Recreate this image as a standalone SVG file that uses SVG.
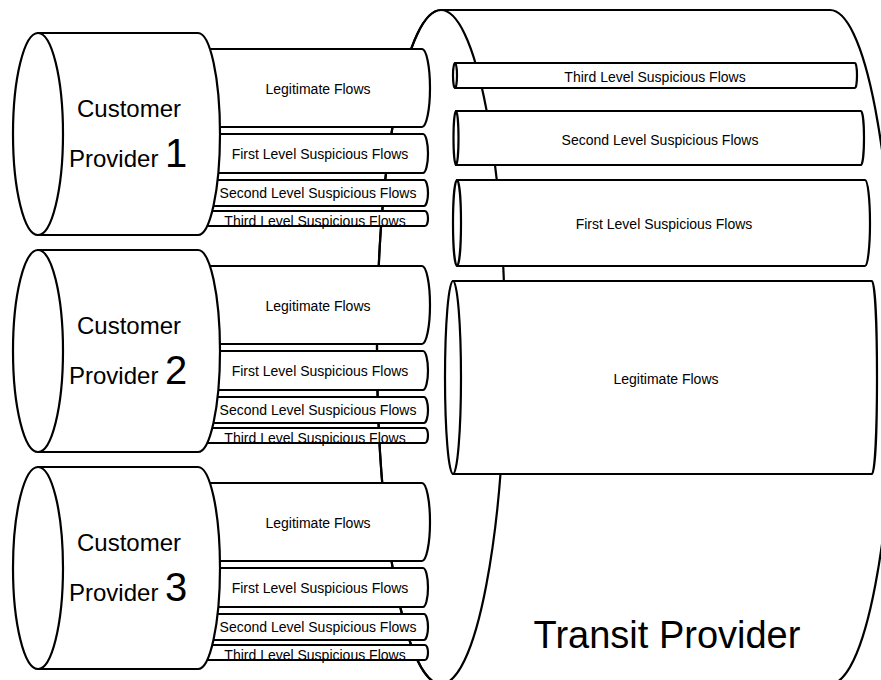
<svg xmlns="http://www.w3.org/2000/svg" width="881" height="680" viewBox="0 0 881 680">
<style>
.s{fill:#fff;stroke:#000;stroke-width:2.2;stroke-linejoin:round}
.n{fill:none;stroke:#000;stroke-width:2.2}
.t{font-family:"Liberation Sans",Arial,sans-serif;font-size:14px;fill:#000;text-anchor:middle}
.c{font-family:"Liberation Sans",Arial,sans-serif;font-size:24px;fill:#000}
</style>
<defs>
<g id="pipes">
<path class="s" d="M200,49 L422,49 A8,39 0 0 1 422,127 L200,127 Z"/>
<text class="t" x="318" y="94">Legitimate Flows</text>
<path class="s" d="M200,134 L423,134 A5,19.5 0 0 1 423,173 L200,173 Z"/>
<text class="t" x="320" y="159">First Level Suspicious Flows</text>
<path class="s" d="M200,180 L424,180 A4,13 0 0 1 424,206 L200,206 Z"/>
<text class="t" x="318" y="198">Second Level Suspicious Flows</text>
<path class="s" d="M200,211 L425,211 A3,7.5 0 0 1 425,226 L200,226 Z"/>
<text class="t" x="315" y="226">Third Level Suspicious Flows</text>
</g>
<g id="cyl">
<path class="s" d="M38,33 L198,33 A22,101 0 0 1 198,235 L38,235 Z"/>
<ellipse class="s" cx="38" cy="134" rx="25" ry="101"/>
<text class="c" x="129" y="117" text-anchor="middle">Customer</text>
</g>
</defs>
<g id="transit-provider">
<path class="s" d="M441,10 L830,10 A64,337 0 0 1 830,684 L441,684 A64,337 0 0 1 441,10 Z"/>
<ellipse class="n" cx="441" cy="347" rx="64" ry="337"/>
<text class="c" x="667" y="648" text-anchor="middle" style="font-size:38px">Transit Provider</text>
</g>
<g id="customer-provider-1">
<use href="#pipes"/>
<use href="#cyl"/>
<text class="c" x="69" y="167">Provider <tspan style="font-size:40px">1</tspan></text>
</g>
<g id="customer-provider-2" transform="translate(0,217)">
<use href="#pipes"/>
<use href="#cyl"/>
<text class="c" x="69" y="167">Provider <tspan style="font-size:40px">2</tspan></text>
</g>
<g id="customer-provider-3" transform="translate(0,434)">
<use href="#pipes"/>
<use href="#cyl"/>
<text class="c" x="69" y="167">Provider <tspan style="font-size:40px">3</tspan></text>
</g>
<g id="transit-flows">
<g id="tp-third">
<path class="s" d="M455,63 L855,63 A2,12.5 0 0 1 855,88 L455,88 Z"/>
<ellipse class="s" cx="455" cy="75.5" rx="2" ry="12.5"/>
<text class="t" x="655" y="82">Third Level Suspicious Flows</text>
</g>
<g id="tp-second">
<path class="s" d="M456,111 L861,111 A3,27 0 0 1 861,165 L456,165 Z"/>
<ellipse class="s" cx="456" cy="138" rx="2.5" ry="27"/>
<text class="t" x="660" y="145">Second Level Suspicious Flows</text>
</g>
<g id="tp-first">
<path class="s" d="M457,180 L865,180 A5,43 0 0 1 865,266 L457,266 Z"/>
<ellipse class="s" cx="457" cy="223" rx="4" ry="43"/>
<text class="t" x="664" y="229">First Level Suspicious Flows</text>
</g>
<g id="tp-legit">
<path class="s" d="M453,281 L872,281 A5,96.5 0 0 1 872,474 L453,474 Z"/>
<ellipse class="s" cx="453" cy="377.5" rx="8" ry="96.5"/>
<text class="t" x="666" y="384">Legitimate Flows</text>
</g>
</g>
<g id="connectors"/>
</svg>
